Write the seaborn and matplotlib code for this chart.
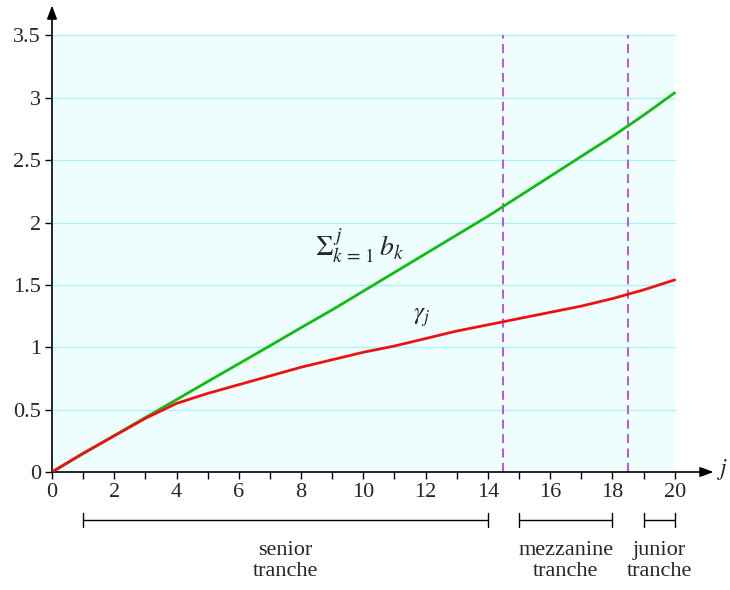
import numpy as np
import pandas as pd
import matplotlib
matplotlib.use('Agg')
import matplotlib.pyplot as plt
import seaborn as sns

# values
j_vals = list(range(21))
cum_b = [0, 0.147, 0.292, 0.437, 0.58, 0.725, 0.868, 1.012, 1.157, 1.30, 1.45,
         1.60, 1.75, 1.90, 2.05, 2.21, 2.37, 2.53, 2.69, 2.86, 3.04]
gamma = [0, 0.15, 0.29, 0.43, 0.55, 0.63, 0.70, 0.77, 0.84, 0.90, 0.96,
         1.01, 1.07, 1.13, 1.18, 1.23, 1.28, 1.33, 1.39, 1.46, 1.54]
y_ticks = [0, 0.5, 1, 1.5, 2, 2.5, 3, 3.5]
y_tick_labels = ['0', '0.5', '1', '1.5', '2', '2.5', '3', '3.5']
x_major = [0, 2, 4, 6, 8, 10, 12, 14, 16, 18, 20]
cuts = [14.5, 18.5]
tranches = ['senior\ntranche', 'mezzanine\ntranche', 'junior\ntranche']
tranche_start = [1, 15, 19]
tranche_end = [14, 18, 20]

sns.set_style('white')
plt.rcParams['font.family'] = ['Liberation Serif', 'DejaVu Serif']
plt.rcParams['mathtext.fontset'] = 'stix'

df = pd.DataFrame({'j': j_vals, 'cum': cum_b, 'gamma': gamma})

fig = plt.figure(figsize=(7.3, 5.9), dpi=100)
ax = fig.add_axes([52/730, 118/590, 660/730, 464/590])

# shaded region + grid
ax.fill_between([0, 20], 0, 3.5, color='#eefeff', zorder=0, lw=0)
for yy in y_ticks[1:]:
    ax.plot([0, 20], [yy, yy], color='#a8f4f8', lw=0.9, zorder=1)

for c in cuts:
    ax.plot([c, c], [0, 3.5], color='#bb44ee', lw=1.3, ls=(0, (5, 3)), zorder=2)

sns.lineplot(data=df, x='j', y='cum', color='#11bb11', lw=2, ax=ax, zorder=3)
sns.lineplot(data=df, x='j', y='gamma', color='#ee1111', lw=2, ax=ax, zorder=4)

ax.text(8.45, 1.81, r'$\Sigma_{k\,=\,1}^{\,j}\,b_k$', fontsize=20, ha='left', va='center')
ax.text(11.6, 1.24, r'$\gamma_j$', fontsize=18, ha='left', va='center')

ax.set_xlim(0, 21.2)
ax.set_ylim(0, 3.72)
for s in ax.spines.values():
    s.set_visible(False)

ax.annotate('', xy=(21.25, 0), xytext=(0, 0), annotation_clip=False,
            arrowprops=dict(arrowstyle='-|>,head_length=0.8,head_width=0.3', color='black', lw=1.2, shrinkA=0, shrinkB=0))
ax.annotate('', xy=(0, 3.74), xytext=(0, 0), annotation_clip=False,
            arrowprops=dict(arrowstyle='-|>,head_length=0.8,head_width=0.3', color='black', lw=1.2, shrinkA=0, shrinkB=0))
ax.text(21.35, 0.02, '$j$', fontsize=17, ha='left', va='center')

ax.set_xticks(j_vals, minor=True)
ax.set_xticks(x_major)
ax.set_xticklabels([str(v) for v in x_major])
ax.set_yticks(y_ticks)
ax.set_yticklabels(y_tick_labels)
ax.tick_params(axis='both', which='both', direction='out', length=5, width=1, color='black', labelsize=16, pad=3)
ax.tick_params(axis='x', which='both', bottom=True)
ax.tick_params(axis='y', left=True)
ax.set_xlabel('')
ax.set_ylabel('')

# tranche brackets
yb = -0.385
for a, b, name in zip(tranche_start, tranche_end, tranches):
    ax.plot([a, b], [yb, yb], color='black', lw=1, clip_on=False)
    ax.plot([a, a], [yb - 0.055, yb + 0.055], color='black', lw=1, clip_on=False)
    ax.plot([b, b], [yb - 0.055, yb + 0.055], color='black', lw=1, clip_on=False)
    ax.text((a + b) / 2, -0.71, name, fontsize=16, ha='center', va='center',
            linespacing=1.15, clip_on=False)

fig.savefig('out.png', dpi=100)
